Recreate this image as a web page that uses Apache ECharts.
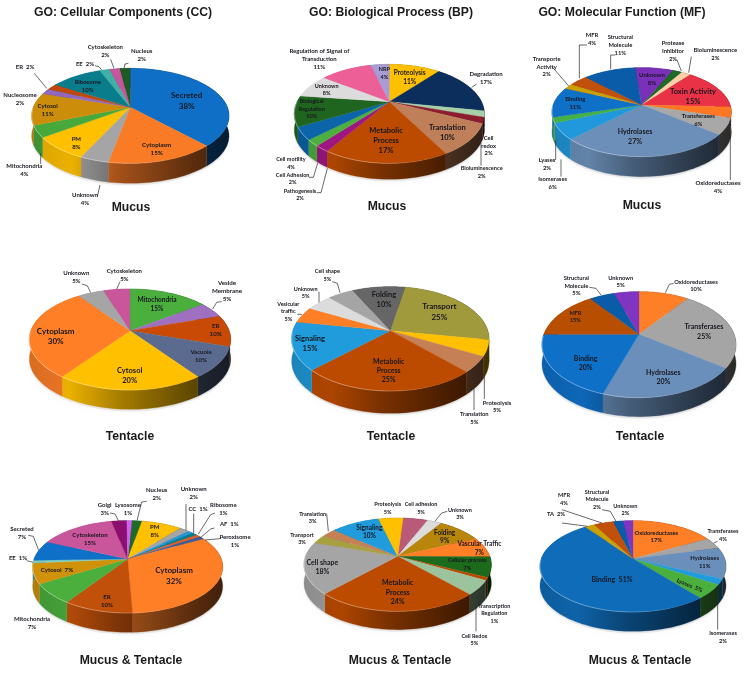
<!DOCTYPE html>
<html>
<head>
<meta charset="utf-8">
<style>html,body{margin:0;padding:0;background:#fff}#c{width:747px;height:673px;filter:blur(0.3px)}</style>
<script src="https://cdn.jsdelivr.net/npm/echarts@6/dist/echarts.min.js"></script>
</head>
<body>
<div id="c"></div>
<script>
// ---------- chart values ----------
var columnTitles = ['GO: Cellular Components (CC)', 'GO: Biological Process (BP)', 'GO: Molecular Function (MF)'];
var rowTitles = ['Mucus', 'Tentacle', 'Mucus & Tentacle'];

var ccMucusNames = ['Secreted','Cytoplasm','Unknown','PM','Mitochondria','Cytosol','Nucleosome','ER','Ribosome','EE','Cytoskeleton','Nucleus'];
var ccMucusValues = [38,15,4,8,4,11,2,2,10,2,2,2];
var bpMucusNames = ['Proteolysis','Degradation','Cell\nredox','Bioluminescence','Translation','Metabolic\nProcess','Pathogenesis','Cell Adhesion','Cell motility','Biological\nRegulation','Unknown','Regulation of Signal of\nTransduction','NRP'];
var bpMucusValues = [11,17,2,2,10,17,2,2,4,10,8,11,4];
var mfMucusNames = ['Unknown','Protease\nInhibitor','Bioluminescence','Toxin Activity','Oxidoreductases','Transferases','Hydrolases','Isomerases','Lyases','Binding','Transporte\nActivity','MFR','Structural\nMolecule'];
var mfMucusValues = [8,2,2,15,4,6,27,6,2,11,2,4,11];

var ccTentacleNames = ['Mitochondria','Veside\nMembrane','ER','Vacuole','Cytosol','Cytoplasm','Unknown','Cytoskeleton'];
var ccTentacleValues = [15,5,10,10,20,30,5,5];
var bpTentacleNames = ['Transport','Proteolysis','Translation','Metabolic\nProcess','Signaling','Vesicular\ntraffic','Unknown','Cell shape','Folding'];
var bpTentacleValues = [25,5,5,25,15,5,5,5,10];
var mfTentacleNames = ['Oxidoreductases','Transferases','Hydrolases','Binding','MFR','Structural\nMolecule','Unknown'];
var mfTentacleValues = [10,25,20,20,15,5,5];

var ccBothNames = ['Nucleus','PM','Unknown','CC','Ribosome','AF','Peroxisome','Cytoplasm','ER','Mitochondria','Cytosol','EE','Secreted','Cytoskeleton','Golgi','Lysosome'];
var ccBothValues = [2,8,2,1,1,1,1,32,10,7,7,1,7,15,3,1];
var bpBothNames = ['Cell adhesion','Unknown','Folding','Vascular Traffic','Cellular process','Transcription\nRegulation','Cell Redox','Metabolic\nProcess','Cell shape','Transport','Translation','Signaling','Proteolysis'];
var bpBothValues = [5,3,9,7,7,1,5,24,18,3,3,10,5];
var mfBothNames = ['Oxidoreductases','Transferases','Hydrolases','Isomerases','Lyases','Binding','TA','MFR','Structural\nMolecule','Unknown'];
var mfBothValues = [17,4,11,2,5,51,2,4,2,2];

// ---------- slice colours ----------
var ccMucusColors = ['#0F6FC6','#F97B26','#A5A5A5','#FFC000','#47A93B','#CC8E0A','#9068BE','#C0480A','#0A7D8C','#3FB0A6','#C6569C','#1C5A26'];
var bpMucusColors = ['#FFC000','#0B2E5C','#A8D0A8','#8B1E2E','#BF7F58','#BC4B00','#A01680','#4CAF3E','#0B65A8','#1F641F','#DCDCDC','#EC5F97','#A89CD4'];
var mfMucusColors = ['#7A30B8','#1E6B28','#FFD0A8','#EA3247','#FF7722','#A8A8A8','#6B8FB8','#2098DB','#45B045','#0F70C8','#C9A008','#C0500A','#0A5CA8'];
var ccTentacleColors = ['#4BAF3E','#A070C0','#C84A05','#5A6B8F','#FFC000','#FF7F27','#A5A5A5','#C9559B'];
var bpTentacleColors = ['#A09A3C','#FFC000','#C68055','#BC4B00','#209BDB','#FF7F27','#DCDCDC','#A5A5A5','#666666'];
var mfTentacleColors = ['#FF7F27','#A5A5A5','#6A8FBA','#0F70C8','#B84E00','#0A5CA8','#7F35C0'];
var ccBothColors = ['#1C6B2A','#FFC000','#A5A5A5','#1E9BE0','#0C7F8F','#E06030','#3060A8','#FF7F27','#C0500A','#4BAF3E','#D0920A','#80CFC0','#0F70C8','#C9559B','#8B0F6E','#D060F0'];
var bpBothColors = ['#B85A78','#DCDCDC','#B8860B','#FF7F27','#1C6B1C','#B84A00','#9CC49C','#BC4B00','#A5A5A5','#A8A040','#C68055','#209BDB','#FFC000'];
var mfBothColors = ['#FF7F27','#A5A5A5','#6A8FBA','#209BDB','#4BAF3E','#0F6CB8','#C9A008','#C0500A','#0A5CA8','#7F35C0'];

// ---------- layout (units: 3x panel pixels, relative to the panel origin) ----------
// cx, apexY, rx, a (back radius), f (front radius), depth, start angle in degrees
var panels = [
 {o:[0,0],     cx:391,ay:322,rx:296,a:117,f:168,d:60,start:0,  names:ccMucusNames,values:ccMucusValues,colors:ccMucusColors},
 {o:[250,0],   cx:418,ay:305,rx:285,a:112,f:185,d:48,start:0,  names:bpMucusNames,values:bpMucusValues,colors:bpMucusColors},
 {o:[497,0],   cx:434,ay:315,rx:269,a:112,f:155,d:60,start:-5, names:mfMucusNames,values:mfMucusValues,colors:mfMucusColors},
 {o:[0,225],   cx:390,ay:317,rx:302,a:125,f:178,d:58,start:0,  names:ccTentacleNames,values:ccTentacleValues,colors:ccTentacleColors},
 {o:[250,225], cx:421,ay:317,rx:296,a:132,f:181,d:67,start:10, names:bpTentacleNames,values:bpTentacleValues,colors:bpTentacleColors},
 {o:[497,225], cx:426,ay:328,rx:291,a:128,f:190,d:57,start:0,  names:mfTentacleNames,values:mfTentacleValues,colors:mfTentacleColors},
 {o:[0,448],   cx:383,ay:333,rx:285,a:115,f:162,d:58,start:3,  names:ccBothNames,values:ccBothValues,colors:ccBothColors},
 {o:[250,448], cx:443,ay:325,rx:281,a:115,f:165,d:55,start:4,  names:bpBothNames,values:bpBothValues,colors:bpBothColors},
 {o:[497,448], cx:408,ay:332,rx:279,a:114,f:160,d:58,start:0,  names:mfBothNames,values:mfBothValues,colors:mfBothColors}
];
// label centre x, y, font size, optional: 'i' = value on the same line, rotation
var labelSpots = [
 [[560,302,8],[470,447,6.2],[255,597,6],[229,428,6],[73,510,6],[143,330,6],[60,297,6],[75,200,6,'i'],[263,257,6],[255,191,6,'i'],[316,153,6],[425,165,6]],
 [[479,232,6.5],[708,235,6],[716,437,5.8],[695,517,5.6],[592,398,7.5],[408,423,7.5],[150,585,5.5],[128,537,5.5],[123,490,5.5],[185,327,5.5],[230,270,5.5],[208,178,6],[403,220,5.5]],
 [[465,238,6],[528,153,5.8],[655,162,5.8],[588,291,7.5],[663,560,6],[604,360,6],[414,410,7],[167,550,5.8],[150,493,5.8],[235,308,6],[149,200,5.8],[285,117,5.8],[370,135,5.8]],
 [[471,238,6.5],[681,198,6.2],[647,316,6.2],[603,392,6],[389,451,7.5],[167,334,8],[229,157,6],[373,151,6]],
 [[568,260,8],[741,545,5.8],[673,580,5.8],[416,437,7],[180,357,7.5],[115,260,5.5],[167,203,5.5],[232,151,5.5],[402,225,7.5]],
 [[597,182,5.8],[621,320,7],[499,457,7],[266,414,7],[235,275,5.5],[238,182,5.8],[371,170,5.8]],
 [[470,137,6],[464,248,6],[581,134,6],[594,182,6,'i'],[670,182,6],[688,228,6,'i'],[705,278,6],[522,384,8],[321,458,6],[96,525,6],[171,367,6.2,'i'],[54,331,6,'i'],[66,256,6],[270,274,6],[314,182,6],[384,182,6]],
 [[513,181,5.5],[630,197,5.5],[584,267,6.5],[688,301,6.5],[652,349,5.5],[733,497,5.5],[673,575,5.5],[443,433,7],[217,357,7],[156,273,5.5],[188,210,5.5],[358,252,6.5],[413,181,5.5]],
 [[478,266,5.8],[678,262,5.6],[623,342,5.8],[678,568,5.6],[578,412,5.8,'i',-0.4],[345,394,7,'i'],[177,198,5.8,'i'],[201,153,5.6],[300,155,5.6],[385,185,5.6]]
];
var leaderPaths = [
 [[[300,555],[292,590]],[[122,460],[122,492]],[[103,220],[140,265]],[[285,197],[297,200],[305,210]],[[332,178],[342,205]],[[385,190],[375,192],[372,205]]],
 [[[665,262],[680,252]],[[693,430],[693,497]],[[200,578],[213,578],[232,505]],[[177,532],[190,532],[203,490]]],
 [[[540,180],[553,213]],[[583,170],[575,218]],[[700,395],[700,540]],[[192,478],[192,530]],[[176,420],[176,480]],[[165,200],[215,258]],[[270,135],[247,135],[247,235]],[[355,165],[341,165],[341,207]]],
 [[[665,230],[650,232],[638,252]],[[245,177],[262,182],[272,203]],[[360,170],[350,192]]],
 [[[703,445],[703,522]],[[672,490],[672,555]],[[142,268],[156,268]],[[207,200],[207,232]],[[247,170],[262,175],[270,203]]],
 [[[530,175],[517,178],[505,203]],[[277,187],[297,190],[312,210]]],
 [[[440,160],[425,162],[411,218]],[[558,168],[558,247]],[[581,197],[581,255]],[[645,195],[632,200],[595,258]],[[643,240],[632,243],[600,270]],[[660,272],[615,276]],[[80,338],[100,343]],[[85,262],[100,265],[116,307]],[[330,195],[345,198],[355,218]]],
 [[[592,190],[575,195],[555,220]],[[700,430],[685,470]],[[678,470],[678,550]],[[230,197],[235,250]]],
 [[[662,280],[650,285]],[[662,465],[662,545]],[[195,225],[272,235]],[[195,185],[315,225]],[[315,185],[340,190],[357,220]]]
];
var columnTitleSpots = [[123,12.5],[391,12.5],[622,12.5]];
var rowTitleSpots = [[[131,208],[387,207],[642,206]],[[130,437],[391,437],[640,437]],[[131,661],[400,661],[640,661]]];

// ---------- helpers ----------
var LABEL_FONT = 'Lato, "Open Sans", sans-serif';
var TITLE_FONT = '"Liberation Sans", Arial, sans-serif';
function shade(hex, f) {
  var n = parseInt(hex.slice(1), 16);
  var c = [(n>>16)&255,(n>>8)&255,n&255].map(function(v){return Math.round(Math.min(255,v*f));});
  return 'rgb(' + c.join(',') + ')';
}
function tint(hex, t) {
  var n = parseInt(hex.slice(1), 16);
  var c = [(n>>16)&255,(n>>8)&255,n&255].map(function(v){return Math.round(v+(255-v)*t);});
  return c;
}
function geometry(p) {
  var k = (p.f-p.a)/(p.f+p.a);
  var B = p.a*(1+k), A = p.rx*Math.sqrt(1-k*k)/3, ox=p.o[0]+p.cx/3, oy=p.o[1]+p.ay/3;
  return function(deg, dy) {
    var t = deg*Math.PI/180, X = Math.sin(t), Y = -Math.cos(t), w = 1-k*Y;
    return [ox + A*X/w, oy + (B/3)*Y/w + (dy||0)];
  };
}
function sliceAngles(p, i) {
  var total = p.values.reduce(function(s,v){return s+v;},0), before = 0;
  for (var j=0;j<i;j++) before += p.values[j];
  return [p.start + before/total*360, p.start + (before+p.values[i])/total*360];
}
function arcPoints(pt, a0, a1, dy) {
  var pts = [], n = Math.max(2, Math.ceil((a1-a0)/2));
  for (var i=0;i<=n;i++) pts.push(pt(a0+(a1-a0)*i/n, dy));
  return pts;
}
var sideLight = [[0,.85],[.2,.92],[.45,.65],[.8,.38],[1,.25]];

function sideItem(p) {
  return function(params, api) {
    var i = params.dataIndex, pt = geometry(p), ang = sliceAngles(p,i), d = p.d/3;
    var top = arcPoints(pt, ang[0], ang[1], 0), bot = arcPoints(pt, ang[0], ang[1], d).reverse();
    var x0 = p.o[0]+(p.cx-p.rx)/3, x1 = p.o[0]+(p.cx+p.rx)/3;
    var fill = new echarts.graphic.LinearGradient(x0,0,x1,0, sideLight.map(function(s){
      return {offset:s[0], color:shade(p.colors[i], s[1])};
    }), true);
    var kids = [];
    if (i === 0) {
      kids.push({type:'polygon', silent:true,
        shape:{points:arcPoints(pt,0,360,d+2)},
        style:{fill:'rgba(150,150,150,0.18)', shadowBlur:5, shadowColor:'rgba(0,0,0,0.18)'}});
    }
    kids.push({type:'polygon', shape:{points:top.concat(bot)}, style:{fill:fill, stroke:fill, lineWidth:0.3}});
    return {type:'group', children:kids};
  };
}
function topItem(p) {
  return function(params, api) {
    var i = params.dataIndex, pt = geometry(p), ang = sliceAngles(p,i), col = p.colors[i];
    var arc = arcPoints(pt, ang[0], ang[1], 0);
    var ctr = [p.o[0]+p.cx/3, p.o[1]+p.ay/3];
    var x0 = p.o[0]+(p.cx-p.rx)/3, x1 = p.o[0]+(p.cx+p.rx)/3, t = tint(col,.45);
    var rim = new echarts.graphic.LinearGradient(x0,0,x1,0,[
      {offset:0,color:'rgba('+t.join(',')+',0.9)'},
      {offset:.45,color:'rgba('+t.join(',')+',0.6)'},
      {offset:.75,color:'rgba('+t.join(',')+',0)'},
      {offset:1,color:'rgba('+t.join(',')+',0)'}],true);
    var front = arc.filter(function(q){return q[1] > ctr[1];});
    var kids = [{type:'polygon', shape:{points:[ctr].concat(arc)}, style:{fill:col, stroke:col, lineWidth:0.3}}];
    if (front.length > 1) kids.push({type:'polyline', shape:{points:front}, style:{stroke:rim, lineWidth:1, fill:null}});
    return {type:'group', children:kids};
  };
}
function labelItem(p, pi) {
  return function(params, api) {
    var i = params.dataIndex, s = labelSpots[pi][i];
    var text = p.names[i] + (s[3]==='i' ? '  ' : '\n') + p.values[i] + '%';
    return {type:'text', silent:true,
      x:p.o[0]+s[0]/3, y:p.o[1]+s[1]/3, rotation:s[4]||0,
      style:{text:text, fill:'#17171f', align:'center', verticalAlign:'middle',
        font:'bold '+s[2]+'px '+LABEL_FONT, lineHeight:s[2]*1.33}};
  };
}
function leaderItem(p, pi) {
  return function(params, api) {
    return {type:'group', silent:true, children:leaderPaths[pi].map(function(path){
      return {type:'polyline', shape:{points:path.map(function(q){return [p.o[0]+q[0]/3,p.o[1]+q[1]/3];})},
        style:{stroke:'#2a2a2a', lineWidth:0.7, fill:null}};
    })};
  };
}

// ---------- option ----------
var series = [];
panels.forEach(function(p, pi){
  var data = p.values.map(function(v,i){return {name:p.names[i], value:v};});
  series.push({type:'custom', coordinateSystem:'none', z:2, silent:true, data:data, renderItem:sideItem(p)});
  series.push({type:'custom', coordinateSystem:'none', z:3, silent:true, data:data, renderItem:topItem(p)});
  series.push({type:'custom', coordinateSystem:'none', z:4, silent:true, data:[{value:0}], renderItem:leaderItem(p,pi)});
  series.push({type:'custom', coordinateSystem:'none', z:5, silent:true, data:data, renderItem:labelItem(p,pi)});
});
var titles = [];
columnTitles.forEach(function(t,i){
  titles.push({text:t, left:columnTitleSpots[i][0], top:columnTitleSpots[i][1], padding:0, textAlign:'center', textVerticalAlign:'middle',
    textStyle:{fontFamily:TITLE_FONT, fontWeight:'bold', fontSize:12.2, color:'#1b1b1b'}});
});
rowTitles.forEach(function(t,r){
  rowTitleSpots[r].forEach(function(s){
    titles.push({text:t, left:s[0], top:s[1], padding:0, textAlign:'center', textVerticalAlign:'middle',
      textStyle:{fontFamily:TITLE_FONT, fontWeight:'bold', fontSize:12.2, color:'#1b1b1b'}});
  });
});
var chart = echarts.init(document.getElementById('c'), null, {renderer:'canvas'});
chart.setOption({backgroundColor:'#ffffff', animation:false, title:titles, series:series});
</script>
</body>
</html>
